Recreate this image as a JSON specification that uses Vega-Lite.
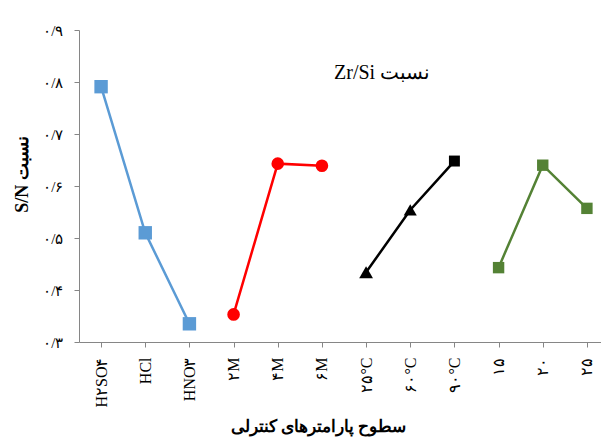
{
  "$schema": "https://vega.github.io/schema/vega-lite/v6.json",
  "autosize": {"type": "none"},
  "padding": {"left": 79, "top": 30, "right": 0, "bottom": 99},
  "width": 530,
  "height": 312,
  "background": "white",
  "title": {
    "text": "Zr/Si نسبت",
    "font": "Liberation Serif",
    "fontSize": 20,
    "fontWeight": "normal",
    "color": "black",
    "anchor": "start",
    "frame": "group",
    "dx": 255,
    "dy": 64
  },
  "config": {
    "view": {"stroke": null},
    "axis": {
      "grid": false,
      "domainColor": "#868686",
      "tickColor": "#868686",
      "tickSize": 5,
      "labelColor": "black",
      "titleColor": "black",
      "labelFont": "Liberation Serif",
      "titleFont": "Liberation Serif"
    }
  },
  "data": {
    "values": [
      {"level": "H۲SO۴", "group": "acid", "sn": 0.791},
      {"level": "HCl", "group": "acid", "sn": 0.510},
      {"level": "HNO۳", "group": "acid", "sn": 0.335},
      {"level": "۲M", "group": "concentration", "sn": 0.353},
      {"level": "۴M", "group": "concentration", "sn": 0.643},
      {"level": "۶M", "group": "concentration", "sn": 0.639},
      {"level": "۲۵°C", "group": "temperature", "sn": 0.434},
      {"level": "۶۰°C", "group": "temperature", "sn": 0.554},
      {"level": "۹۰°C", "group": "temperature", "sn": 0.648},
      {"level": "۱۵", "group": "time", "sn": 0.443},
      {"level": "۲۰", "group": "time", "sn": 0.640},
      {"level": "۲۵", "group": "time", "sn": 0.557}
    ]
  },
  "encoding": {
    "x": {
      "field": "level",
      "type": "nominal",
      "sort": null,
      "scale": {"type": "point", "padding": 0.5},
      "axis": {
        "title": "سطوح پارامترهای کنترلی",
        "titleFontSize": 17,
        "titleFontWeight": "bold",
        "titleX": 239,
        "titleY": 84,
        "titleBaseline": "middle",
        "labelAngle": 270,
        "labelFontSize": 16,
        "labelPadding": 10
      }
    },
    "y": {
      "field": "sn",
      "type": "quantitative",
      "scale": {"domain": [0.3, 0.9], "nice": false, "zero": false},
      "axis": {
        "title": "S/N نسبت",
        "titleFontSize": 18,
        "titleFontWeight": "bold",
        "titleX": -57,
        "titleY": 144,
        "titleBaseline": "middle",
        "values": [0.3, 0.4, 0.5, 0.6, 0.7, 0.8, 0.9],
        "labelExpr": "'۰/' + ['۰','۱','۲','۳','۴','۵','۶','۷','۸','۹'][round(datum.value * 10)]",
        "labelFontSize": 15,
        "labelPadding": 11
      }
    },
    "color": {
      "field": "group",
      "type": "nominal",
      "legend": null,
      "scale": {
        "domain": ["acid", "concentration", "temperature", "time"],
        "range": ["#5B9BD5", "#FF0000", "#000000", "#548235"]
      }
    }
  },
  "layer": [
    {
      "mark": {"type": "line", "strokeWidth": 2.5},
      "encoding": {"detail": {"field": "group"}}
    },
    {
      "mark": {"type": "point", "filled": true, "opacity": 1},
      "encoding": {
        "shape": {
          "field": "level",
          "type": "nominal",
          "legend": null,
          "scale": {
            "domain": ["H۲SO۴", "HCl", "HNO۳", "۲M", "۴M", "۶M", "۲۵°C", "۶۰°C", "۹۰°C", "۱۵", "۲۰", "۲۵"],
            "range": ["square", "square", "square", "circle", "circle", "circle", "triangle-up", "triangle-up", "square", "square", "square", "square"]
          }
        },
        "size": {
          "field": "level",
          "type": "nominal",
          "legend": null,
          "scale": {
            "type": "ordinal",
            "domain": ["H۲SO۴", "HCl", "HNO۳", "۲M", "۴M", "۶M", "۲۵°C", "۶۰°C", "۹۰°C", "۱۵", "۲۰", "۲۵"],
            "range": [180, 180, 180, 160, 160, 160, 190, 170, 120, 130, 130, 130]
          }
        }
      }
    }
  ]
}
